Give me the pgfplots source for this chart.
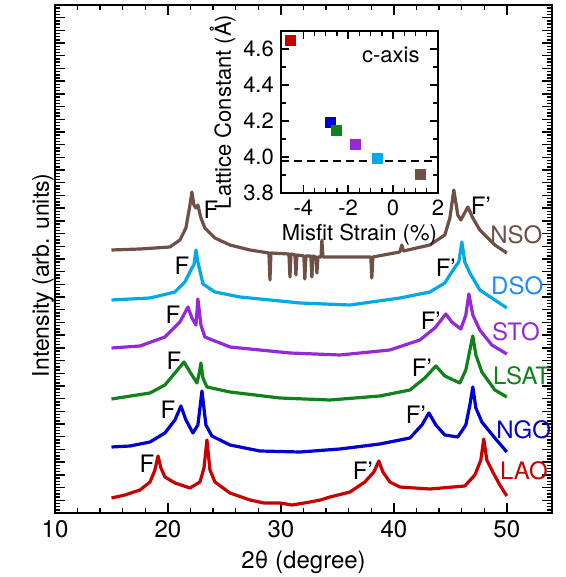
\documentclass[border=0pt]{standalone}
\usepackage{fontspec}
\setmainfont{TeX Gyre Heros}
\usepackage{pgfplots}
\pgfplotsset{compat=1.18}

\definecolor{cLAO}{RGB}{200,0,0}
\definecolor{cNGO}{RGB}{0,0,210}
\definecolor{cLSAT}{RGB}{15,130,25}
\definecolor{cSTO}{RGB}{150,40,215}
\definecolor{cDSO}{RGB}{0,170,230}
\definecolor{cDSOt}{RGB}{30,140,255}
\definecolor{cNSO}{RGB}{110,80,70}

\newcommand\lf{\fontsize{12}{14}\selectfont}
\newcommand\insetfont{\fontsize{11}{13}\selectfont}

\begin{document}
\begin{tikzpicture}
\begin{axis}[
  scale only axis, width=248.5pt, height=254pt,
  xmin=10, xmax=54, ymin=0, ymax=508,
  axis line style={line width=1pt},
  tick align=inside,
  xtick={10,20,30,40,50}, minor x tick num=4,
  ytick distance=12.7, minor y tick num=3, yticklabels={},
  major tick length=5pt, minor tick length=2.5pt,
  every tick/.style={black, line width=0.7pt},
  xlabel={2θ (degree)},
  xlabel style={font=\lf},
  tick label style={font=\lf},
  /pgf/number format/assume math mode=true,
  clip=false,
  every axis plot/.append style={line width=1.6pt, line join=round},
]
\coordinate (bbSW) at (rel axis cs:0,0);
\coordinate (bbNE) at (rel axis cs:1,1);
\coordinate (insetSW) at (axis cs:30,320);
\node[rotate=90, font=\fontsize{11.5}{13}\selectfont] at (rel axis cs:-0.024,0.468) {Intensity (arb. units)};

% LAO
\addplot[cLAO] coordinates {
(15.0,15) (16.19,18) (17.52,23) (18.41,31) (18.85,43) (19.12,57) (19.38,45)
(19.73,36) (20.62,30) (21.95,25) (22.83,31) (23.19,45) (23.45,73) (23.72,43)
(24.16,31) (25.49,20) (27.26,13) (28.5,10) (29.91,10) (31.0,8) (32.57,11)
(33.5,13) (34.34,16) (36.11,21) (37.43,31) (38.23,41) (38.67,52) (39.03,41)
(39.65,31) (40.53,26) (43.19,24) (46.28,27) (47.17,38) (47.70,53) (47.96,74)
(48.23,53) (48.76,41) (49.38,28) (50.0,17)};
% NGO
\addplot[cNGO] coordinates {
(15.0,66) (16.64,67) (18.41,71) (19.73,80) (20.62,93) (21.15,107) (21.59,93)
(22.21,80) (22.65,88) (23.01,122) (23.36,88) (23.89,77) (25.49,68) (28.14,62)
(31.68,61) (35.22,64) (38.76,69) (41.42,75) (42.48,88) (43.10,100) (43.72,88)
(44.51,78) (45.66,76) (46.37,88) (46.73,108) (46.99,126) (47.26,105) (47.79,91)
(48.94,75) (50.0,61)};
% LSAT
\addplot[cLSAT] coordinates {
(15.0,114) (18.41,120) (19.73,128) (20.62,140) (21.42,151) (21.95,141) (22.57,130)
(22.79,141) (22.92,150) (23.10,135) (23.45,126) (25.49,121) (29.91,115) (34.34,113)
(38.76,117) (41.42,123) (42.74,135) (43.72,147) (44.51,137) (45.84,130) (46.37,143)
(46.73,163) (46.99,177) (47.26,158) (47.79,141) (48.94,123) (50.0,116)};
% STO
\addplot[cSTO] coordinates {
(15.0,165) (17.52,167) (19.73,176) (21.06,191) (21.77,206) (22.12,195) (22.48,188)
(22.65,214) (22.92,188) (23.27,176) (25.49,166) (30.80,160) (35.22,158) (39.65,163)
(42.30,173) (43.63,185) (44.60,199) (45.13,191) (45.93,184) (46.37,198) (46.64,219)
(46.99,198) (47.61,183) (48.67,168) (50.0,159)};
% DSO
\addplot[cDSO] coordinates {
(15.0,213) (18.41,215) (20.62,221) (21.50,231) (22.12,245) (22.30,248) (22.48,263)
(22.65,251) (23.10,229) (24.16,221) (26.37,216) (31.68,210) (36.11,208) (40.53,215)
(43.19,221) (44.51,230) (45.13,241) (45.49,247) (45.75,251) (46.02,271) (46.28,251)
(46.73,240) (47.61,223) (48.94,213) (50.0,205)};
% NSO
\addplot[cNSO] coordinates {
(15.0,263) (17.52,264) (20.17,266) (21.06,273) (21.59,285) (21.95,308) (22.12,321)
(22.30,308) (22.48,305) (22.65,308) (22.92,295) (23.27,285) (24.16,275) (25.49,268)
(27.26,263) (28.94,260) (29.03,233) (29.12,260) (30.71,259) (30.80,236) (30.89,259)
(31.24,258) (31.33,238) (31.42,258) (32.03,257) (32.12,234) (32.21,257) (32.65,257)
(32.74,236) (32.83,257) (33.10,256) (33.19,240) (33.28,256) (33.55,256) (33.63,273)
(33.72,256) (36.11,256) (37.96,256) (38.05,235) (38.14,256) (40.53,261) (40.71,268)
(40.85,262) (43.19,268) (44.51,278) (44.96,295) (45.31,323) (45.66,298) (45.93,293)
(46.55,306) (46.99,295) (47.61,283) (48.94,268) (50.0,260)};

% sample names
\begin{scope}[font=\lf]
\node[cNSO, anchor=west, inner sep=0pt] at (axis cs:48.5,278) {NSO};
\node[cDSOt, anchor=west, inner sep=0pt] at (axis cs:48.58,227) {DSO};
\node[cSTO, anchor=west, inner sep=0pt] at (axis cs:48.67,181) {STO};
\node[cLSAT, anchor=west, inner sep=0pt] at (axis cs:48.76,137) {LSAT};
\node[cNGO, anchor=west, inner sep=0pt] at (axis cs:49.03,83) {NGO};
\node[cLAO, anchor=west, inner sep=0pt] at (axis cs:49.38,42) {LAO};
\end{scope}
% film peaks
\begin{scope}[font=\lf]
\node at (axis cs:23.81,303) {F};
\node at (axis cs:21.24,247) {F};
\node at (axis cs:20.44,198) {F};
\node at (axis cs:20.53,152) {F};
\node at (axis cs:20.0,103) {F};
\node at (axis cs:18.14,49) {F};
\node at (axis cs:47.7,307) {F'};
\node at (axis cs:44.6,245) {F'};
\node at (axis cs:43.27,192) {F'};
\node at (axis cs:42.48,145) {F'};
\node at (axis cs:41.95,98) {F'};
\node at (axis cs:37.26,42) {F'};
\end{scope}
\end{axis}

\begin{axis}[
  at={(insetSW)}, anchor=south west,
  scale only axis, width=78.5pt, height=81pt,
  xmin=-5, xmax=2, ymin=3.8, ymax=4.7,
  xtick={-4,-2,0,2}, minor x tick num=3,
  ytick={3.8,4.0,4.2,4.4,4.6}, minor y tick num=1,
  yticklabel style={/pgf/number format/.cd, fixed, fixed zerofill, precision=1},
  tick align=inside, major tick length=4pt, minor tick length=2.5pt,
  every tick/.style={black, line width=0.7pt},
  axis line style={line width=0.9pt},
  axis background/.style={fill=white},
  tick label style={font=\insetfont},
  label style={font=\insetfont},
  xlabel={Misfit Strain (\%)}, ylabel={Lattice Constant (Å)},
  xlabel style={yshift=3pt},
  ylabel style={yshift=-3pt},
  /pgf/number format/assume math mode=true,
  clip=false,
]
\addplot[black, line width=1pt, dash pattern=on 4pt off 2.5pt] coordinates {(-5,3.975) (2,3.975)};
\addplot[only marks, mark=square*, mark size=2.5pt, cLAO] coordinates {(-4.58,4.645)};
\addplot[only marks, mark=square*, mark size=2.5pt, cNGO] coordinates {(-2.8,4.19)};
\addplot[only marks, mark=square*, mark size=2.5pt, cLSAT] coordinates {(-2.53,4.146)};
\addplot[only marks, mark=square*, mark size=2.5pt, cSTO] coordinates {(-1.69,4.07)};
\addplot[only marks, mark=square*, mark size=2.5pt, cDSO] coordinates {(-0.71,3.99)};
\addplot[only marks, mark=square*, mark size=2.5pt, cNSO] coordinates {(1.2,3.905)};
\node[font=\insetfont] at (axis cs:-0.1,4.57) {c-axis};
\end{axis}

\pgfresetboundingbox
\path[use as bounding box] ([shift={(-27.5pt,-32pt)}]bbSW) rectangle ([shift={(7pt,2.5pt)}]bbNE);
\end{tikzpicture}
\end{document}
